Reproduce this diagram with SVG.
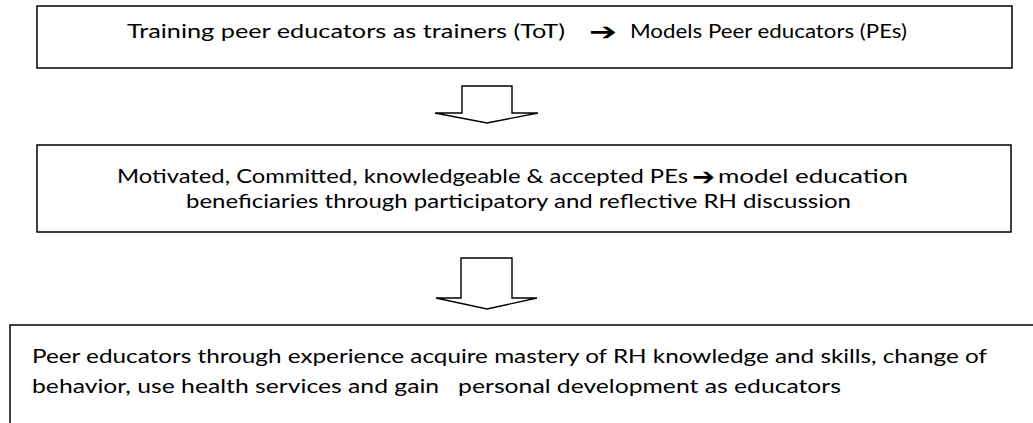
<svg xmlns="http://www.w3.org/2000/svg" width="1033" height="423" viewBox="0 0 1033 423">
<style>
.box{fill:#fff;stroke:#000;stroke-width:1.5}
.blk{fill:none;stroke:#000;stroke-width:1.4;stroke-linejoin:miter}
.t{font-family:Lato,"Liberation Sans",sans-serif;font-size:19.5px;fill:#000}
.ar{font-family:"DejaVu Sans",sans-serif;font-size:24px}
</style>
<rect width="1033" height="423" fill="#fff"/>
<g id="node1">
<rect class="box" x="37" y="6" width="975" height="62"/>
<text class="t" y="38"><tspan x="127" textLength="438" lengthAdjust="spacingAndGlyphs">Training peer educators as trainers (ToT)</tspan><tspan class="ar" x="589" y="40" textLength="28" lengthAdjust="spacingAndGlyphs">➔</tspan><tspan x="630" y="38" textLength="277" lengthAdjust="spacingAndGlyphs">Models Peer educators (PEs)</tspan></text>
</g>
<g id="node2">
<rect class="box" x="37" y="145" width="974" height="87"/>
<text class="t" y="183"><tspan x="117" textLength="571" lengthAdjust="spacingAndGlyphs">Motivated, Committed, knowledgeable &amp; accepted PEs</tspan><tspan class="ar" x="692" y="185" textLength="23" lengthAdjust="spacingAndGlyphs">➔</tspan><tspan x="718" y="183" textLength="190" lengthAdjust="spacingAndGlyphs">model education</tspan></text>
<text class="t" x="186" y="208" textLength="665" lengthAdjust="spacingAndGlyphs">beneficiaries through participatory and reflective RH discussion</text>
</g>
<g id="node3">
<rect class="box" x="10" y="325" width="1040" height="120"/>
<text class="t" x="32" y="363" textLength="955" lengthAdjust="spacingAndGlyphs">Peer educators through experience acquire mastery of RH knowledge and skills, change of</text>
<text class="t" x="32" y="393" textLength="809" lengthAdjust="spacingAndGlyphs" style="white-space:pre">behavior, use health services and gain   personal development as educators</text>
</g>
<g id="connectors">
<polygon class="blk" points="462,86 512,86 512,113 538,113 487,123 435,113 462,113"/>
<polygon class="blk" points="461,258 512,258 512,298 537,298 487,309 436,298 461,298"/>
</g>
</svg>
